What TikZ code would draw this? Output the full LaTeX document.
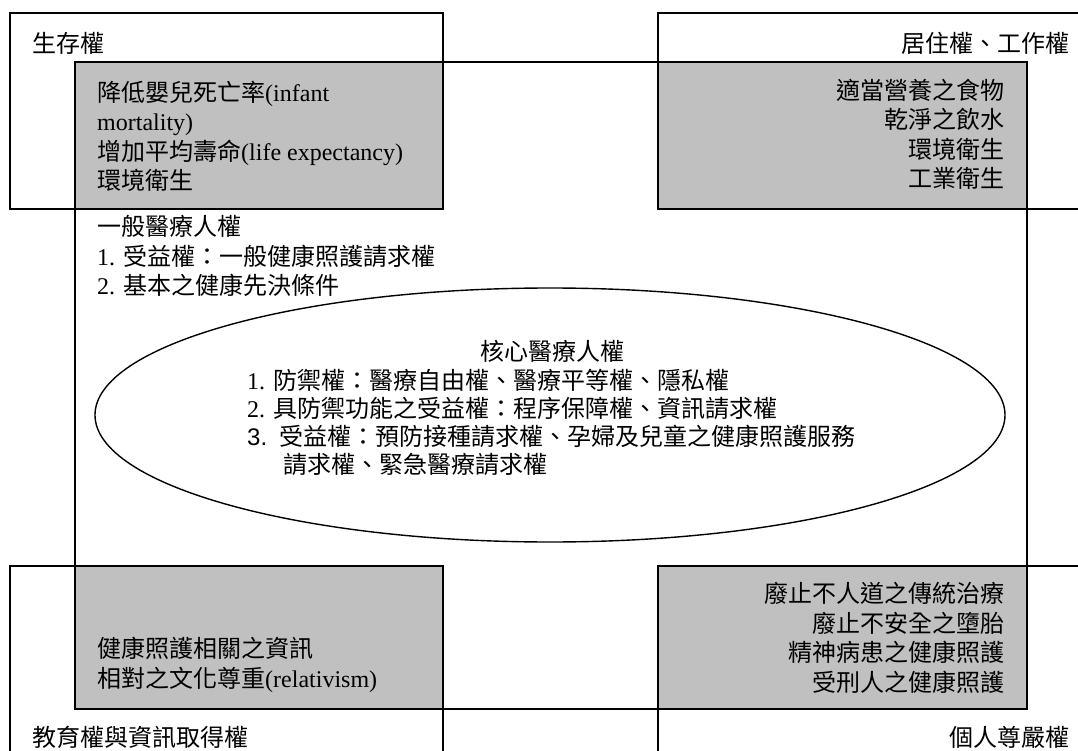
\documentclass[tikz,border=0pt]{standalone}
\usepackage{fontspec}
\setmainfont{Liberation Serif}
\newfontfamily\cjkfont{Noto Sans CJK TC}
\newfontfamily\arialf{Liberation Sans}
\newcommand{\cjt}[1]{{\cjkfont #1}}
\usetikzlibrary{shapes.geometric}
\definecolor{boxgray}{HTML}{C0C0C0}
\begin{document}
\begin{tikzpicture}[x=1pt,y=-1pt,
  txt/.style={inner sep=0pt, font=\fontsize{24}{29.5}\selectfont},
  etxt/.style={inner sep=0pt, font=\fontsize{24}{28}\selectfont},
  frame/.style={draw=black, line width=1.5pt},
  graybox/.style={fill=boxgray, draw=black, line width=2.2pt}]
\useasboundingbox (0,0) rectangle (1078,751);
\clip (0,0) rectangle (1078,751);
\fill[white] (0,0) rectangle (1078,751);
% outer corner boxes and central rectangle
\draw[frame] (10,13) rectangle (443,209);
\draw[frame] (658,13) rectangle (1095,209);
\draw[frame] (10,566) rectangle (443,770);
\draw[frame] (658,566) rectangle (1095,770);
\draw[frame] (75,62) rectangle (1027,709);
% gray intersections
\draw[graybox] (75,62) rectangle (443,209);
\draw[graybox] (658,62) rectangle (1027,209);
\draw[graybox] (75,566) rectangle (443,709);
\draw[graybox] (658,566) rectangle (1027,709);
% ellipse
\node[ellipse, draw=black, line width=1.4pt, minimum width=910pt, minimum height=254pt, inner sep=0pt] (core) at (550,415) {};
% corner labels
\node[txt, anchor=west] (survival) at (32,43) {\cjt{生存權}};
\node[txt, anchor=east] (residence) at (1070,43) {\cjt{居住權、工作權}};
\node[txt, anchor=west] (education) at (32,737) {\cjt{教育權與資訊取得權}};
\node[txt, anchor=east] (dignity) at (1070,737) {\cjt{個人尊嚴權}};
% gray box contents
\node[txt, anchor=west, align=left] (tl) at (97,136.5) {\cjt{降低嬰兒死亡率}(infant\\mortality)\\\cjt{增加平均壽命}(life expectancy)\\\cjt{環境衛生}};
\node[txt, anchor=east, align=right] (tr) at (1005,134.5) {\cjt{適當營養之食物}\\\cjt{乾淨之飲水}\\\cjt{環境衛生}\\\cjt{工業衛生}};
\node[txt, anchor=west, align=left] (bl) at (97,665) {\cjt{健康照護相關之資訊}\\\cjt{相對之文化尊重}(relativism)};
\node[txt, anchor=east, align=right] (br) at (1005,638) {\cjt{廢止不人道之傳統治療}\\\cjt{廢止不安全之墮胎}\\\cjt{精神病患之健康照護}\\\cjt{受刑人之健康照護}};
% general medical rights
\node[txt, anchor=west, align=left] (general) at (97,256) {\cjt{一般醫療人權}\\1. \cjt{受益權：一般健康照護請求權}\\2. \cjt{基本之健康先決條件}};
% core text
\node[etxt] (coretitle) at (552,351) {\cjt{核心醫療人權}};
\node[etxt, anchor=west, align=left] (corelist) at (247,422) {1. \cjt{防禦權：醫療自由權、醫療平等權、隱私權}\\2. \cjt{具防禦功能之受益權：程序保障權、資訊請求權}\\{\arialf 3.}\, \cjt{受益權：預防接種請求權、孕婦及兒童之健康照護服務}\\\hspace*{36pt}\cjt{請求權、緊急醫療請求權}};
\end{tikzpicture}
\end{document}
